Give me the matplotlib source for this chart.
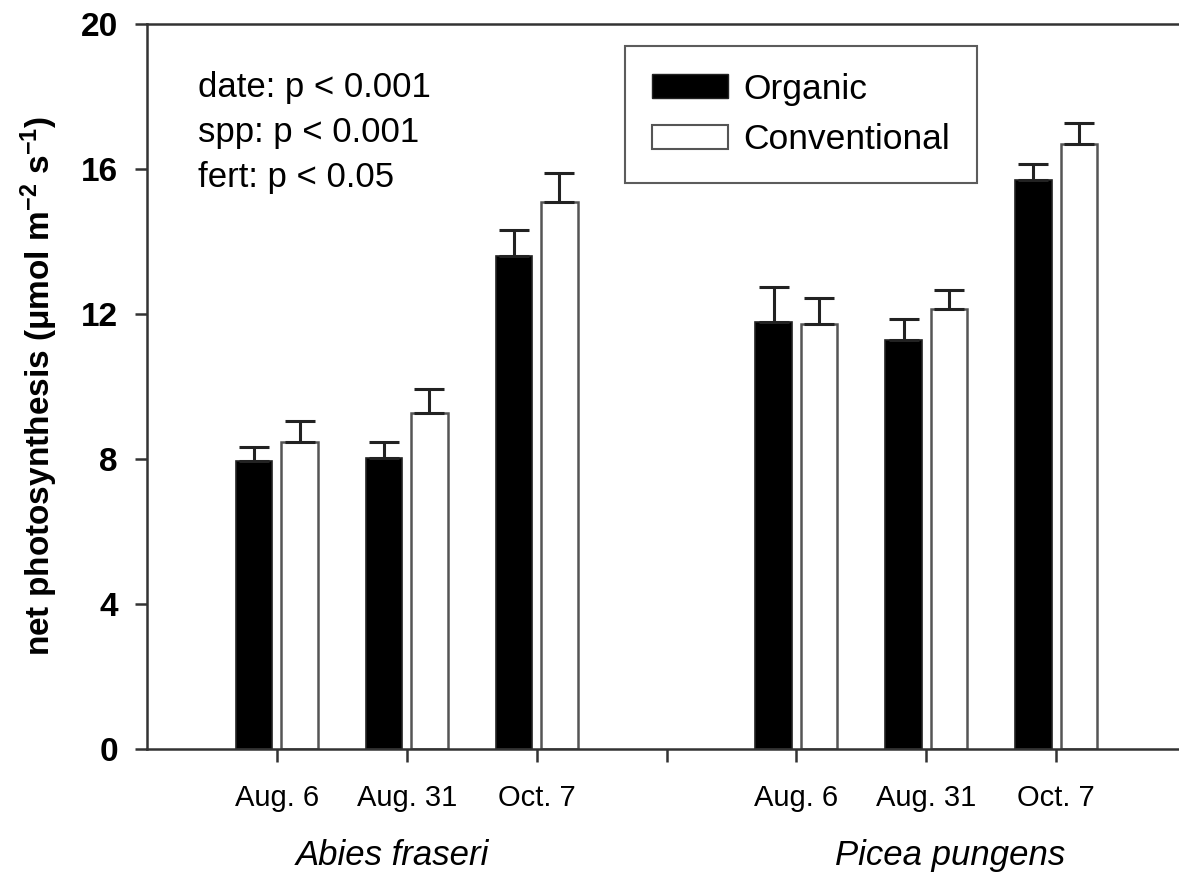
import matplotlib
matplotlib.use('Agg')
import matplotlib.pyplot as plt
from matplotlib.patches import Patch
import numpy as np

plt.rcParams['font.family'] = ['Liberation Sans', 'DejaVu Sans']
plt.rcParams['mathtext.fontset'] = 'custom'
plt.rcParams['mathtext.rm'] = 'Liberation Sans:bold'
plt.rcParams['mathtext.default'] = 'regular'

# datos
fechas = ['Aug. 6', 'Aug. 31', 'Oct. 7']
especies = ['Abies fraseri', 'Picea pungens']
organic_abies = [7.95, 8.02, 13.61]
organic_abies_err = [0.38, 0.44, 0.71]
conv_abies = [8.48, 9.26, 15.08]
conv_abies_err = [0.58, 0.66, 0.81]
organic_picea = [11.79, 11.27, 15.70]
organic_picea_err = [0.95, 0.60, 0.45]
conv_picea = [11.73, 12.13, 16.70]
conv_picea_err = [0.71, 0.54, 0.58]
estadisticos = ['date: p < 0.001', 'spp: p < 0.001', 'fert: p < 0.05']

# posiciones de los grupos en el eje x
pos = np.array([1, 2, 3, 5, 6, 7])
organic = np.array(organic_abies + organic_picea)
organic_err = np.array(organic_abies_err + organic_picea_err)
conv = np.array(conv_abies + conv_picea)
conv_err = np.array(conv_abies_err + conv_picea_err)

fig = plt.figure(figsize=(11.79, 8.77), dpi=100)
ax = fig.add_axes([147 / 1179, 1 - 749 / 877, 1039 / 1179, 725 / 877])

ancho = 0.28
desp = 0.175
ax.bar(pos - desp, organic, ancho, color='black', edgecolor='#222222', linewidth=1.2,
       yerr=[np.zeros(6), organic_err], capsize=11,
       error_kw=dict(elinewidth=2.2, capthick=2.2, ecolor='#222222'))
ax.bar(pos + desp, conv, ancho, color='white', edgecolor='#555555', linewidth=1.8,
       yerr=[np.zeros(6), conv_err], capsize=11,
       error_kw=dict(elinewidth=2.2, capthick=2.2, ecolor='#222222'))

ax.set_xlim(0, 8)
ax.set_ylim(0, 20)
ax.set_yticks([0, 4, 8, 12, 16, 20])
ax.set_xticks([1, 2, 3, 4, 5, 6, 7])
ax.set_xticklabels(fechas + [''] + fechas, fontsize=21)
for lab in ax.get_yticklabels():
    lab.set_fontsize(24)
    lab.set_fontweight('bold')
ax.tick_params(axis='y', direction='out', length=9, width=1.8, color='#333333', pad=12)
ax.tick_params(axis='x', direction='out', length=9, width=1.8, color='#333333', pad=16)

for s in ['left', 'bottom', 'top', 'right']:
    ax.spines[s].set_linewidth(1.8)
    ax.spines[s].set_color('#333333')

ax.set_ylabel('net photosynthesis (μmol m$^{-2}$ s$^{-1}$)', fontsize=24,
              fontweight='bold', labelpad=15)

# nombres de especies
ax.text(1.89, -2.95, especies[0], fontsize=25, style='italic', ha='center', va='center')
ax.text(6.18, -2.95, especies[1], fontsize=25, style='italic', ha='center', va='center')

# estadisticos
for i, t in enumerate(estadisticos):
    ax.text(0.39, 18.0 - 1.25 * i, t, fontsize=25, ha='left', va='baseline')

handles = [Patch(facecolor='black', edgecolor='#222222', label='Organic'),
           Patch(facecolor='white', edgecolor='#555555', linewidth=1.5, label='Conventional')]
leg = fig.legend(handles=handles, loc='upper left', bbox_to_anchor=(625 / 1179, 1 - 46 / 877),
                 fontsize=25.5, frameon=True, fancybox=False, borderpad=0.75,
                 labelspacing=0.5, handlelength=2.15, handleheight=0.65, handletextpad=0.45,
                 borderaxespad=0)
leg.get_frame().set_edgecolor('#333333')
leg.get_frame().set_linewidth(1.5)

fig.savefig('out.png', dpi=100)
